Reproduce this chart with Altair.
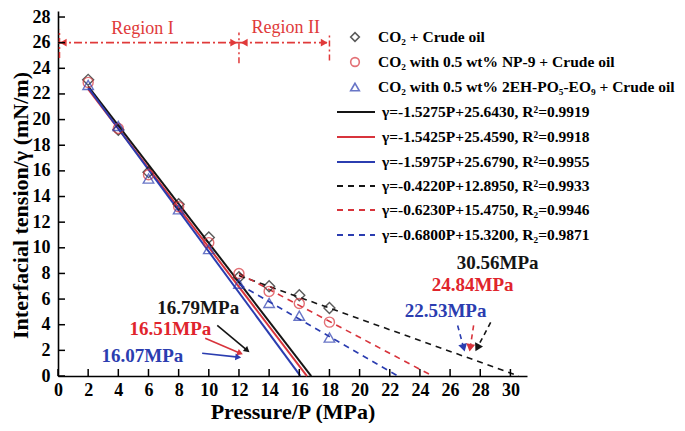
import math
import altair as alt
import pandas as pd

# ---------------- data ----------------
P = [2, 4, 6, 8, 10, 12, 14, 16, 18]
g_co2 = [23.1, 19.2, 15.9, 13.4, 10.8, 7.7, 7.0, 6.3, 5.3]
g_np9 = [22.9, 19.3, 15.7, 13.2, 10.4, 8.0, 6.6, 5.65, 4.2]
g_2eh = [22.7, 19.5, 15.4, 13.0, 9.9, 7.2, 5.7, 4.7, 3.0]

series_names = ["CO₂ + Crude oil",
                "CO₂ with 0.5 wt% NP-9 + Crude oil",
                "CO₂ with 0.5 wt% 2EH-PO₅-EO₉ + Crude oil"]

fit_slope = [-1.5275, -1.5425, -1.5975, -0.4220, -0.6230, -0.6800]
fit_icpt = [25.6430, 25.4590, 25.6790, 12.8950, 15.4750, 15.3200]
fit_from = [2, 2, 2, 12, 12, 12]
fit_to = [16.79, 16.51, 16.07, 30.56, 24.84, 22.53]
fit_r2 = ["R²=0.9919", "R²=0.9918", "R²=0.9955", "R²=0.9933", "R₂=0.9946", "R₂=0.9871"]
fit_style = ["solid", "solid", "solid", "dash", "dash", "dash"]

cross_labels = ["16.79MPa", "16.51MPa", "16.07MPa", "30.56MPa", "24.84MPa", "22.53MPa"]
cross_label_x = [9.3, 7.45, 5.6, 29.15, 27.5, 25.7]
cross_label_y = [5.3, 3.7, 1.55, 8.8, 7.1, 5.1]

x_ticks = list(range(0, 31, 2))
y_ticks = list(range(0, 29, 2))

# ---------------- styling ----------------
BLACK = "#151515"
RED = "#d8343c"
BLUE = "#2b3db0"
TXT_RED = "#e0242c"
REG_RED = "#e03a3a"
FONT = "Liberation Serif"
col3 = [BLACK, RED, BLUE]
colors6 = col3 + col3

TOP = 3
W, H = 469, 365
XMAX, YMAX = 31.1, 28.47
SX, SY = W / XMAX, H / YMAX

xs = alt.Scale(domain=[0, XMAX], nice=False, zero=False)
ys = alt.Scale(domain=[0, YMAX], nice=False, zero=False)

xaxis = alt.Axis(title="Pressure/P (MPa)", values=x_ticks, ticks=False, grid=False,
                 domainColor="black", domainWidth=1.6, labelFont=FONT, labelFontSize=18,
                 labelFontWeight="bold", labelColor="black", labelPadding=5,
                 labelOverlap=False, labelFlush=False, format="d",
                 titleFont=FONT, titleFontSize=22, titleFontWeight="bold",
                 titleColor="black", titlePadding=2)
yaxis = alt.Axis(title="Interfacial tension/γ (mN/m)", values=y_ticks, ticks=False,
                 grid=False, domainColor="black", domainWidth=1.6, labelFont=FONT,
                 labelFontSize=18, labelFontWeight="bold", labelColor="black",
                 labelPadding=8, labelOverlap=False, labelFlush=False, format="d",
                 titleFont=FONT, titleFontSize=22, titleFontWeight="bold",
                 titleColor="black", titlePadding=0, titleY=194)


def ex(f):
    return alt.X(f, scale=xs, axis=xaxis)


def ey(f):
    return alt.Y(f, scale=ys, axis=yaxis)


def heading(x0, y0, x1, y1):
    dx = (x1 - x0) * SX
    dy = -(y1 - y0) * SY
    return math.degrees(math.atan2(dx, -dy)) % 360


def px2x(px):
    return px / SX


def py2y(py):
    return (H - py) / SY


# ---------------- fitted lines ----------------
fits = pd.DataFrame({"slope": fit_slope, "icpt": fit_icpt, "p0": fit_from,
                     "p1": fit_to, "color": colors6, "style": fit_style})
fit_base = alt.Chart(fits).transform_calculate(
    y0="datum.slope*datum.p0+datum.icpt", y1="datum.slope*datum.p1+datum.icpt")
solid = fit_base.transform_filter("datum.style=='solid'").mark_rule(strokeWidth=2).encode(
    x=ex("p0:Q"), x2="p1:Q", y=ey("y0:Q"), y2="y1:Q",
    color=alt.Color("color:N", scale=None))
dashed = fit_base.transform_filter("datum.style=='dash'").mark_rule(
    strokeWidth=1.6, strokeDash=[6, 5]).encode(
    x=ex("p0:Q"), x2="p1:Q", y=ey("y0:Q"), y2="y1:Q",
    color=alt.Color("color:N", scale=None))

# ---------------- data points ----------------
pts = pd.DataFrame({"P": P * 3, "g": g_co2 + g_np9 + g_2eh,
                    "series": sum([[s] * len(P) for s in series_names], [])})
shapes = ["diamond", "circle", "triangle-up"]
sizes = [120, 100, 110]
point_layers = []
for s, shp, c, sz in zip(series_names, shapes, col3, sizes):
    point_layers.append(
        alt.Chart(pts).transform_filter(alt.datum.series == s).mark_point(
            shape=shp, filled=False, size=sz, strokeWidth=1.4, color=c).encode(
            x=ex("P:Q"), y=ey("g:Q")))

# ---------------- crossing annotations ----------------
ann = pd.DataFrame({"x": cross_label_x, "y": cross_label_y, "text": cross_labels,
                    "color": [BLACK, TXT_RED, BLUE, BLACK, TXT_RED, BLUE]})
ann_text = alt.Chart(ann).mark_text(font=FONT, fontWeight="bold", fontSize=19).encode(
    x=ex("x:Q"), y=ey("y:Q"), text="text:N", color=alt.Color("color:N", scale=None))

arr_x0 = [10.56, 9.76, 9.56]
arr_y0 = [3.94, 2.94, 1.78]
arr_x1 = [12.55, 12.08, 11.95]
arr_y1 = [2.0, 1.78, 1.47]
arrows = pd.DataFrame({"x0": arr_x0, "y0": arr_y0, "x1": arr_x1, "y1": arr_y1,
                       "color": [BLACK, RED, BLUE]})
arrows["ang"] = [heading(a, b, c, d) for a, b, c, d in zip(arr_x0, arr_y0, arr_x1, arr_y1)]
arrow_lines = alt.Chart(arrows).mark_rule(strokeWidth=1.6).encode(
    x=ex("x0:Q"), x2="x1:Q", y=ey("y0:Q"), y2="y1:Q",
    color=alt.Color("color:N", scale=None))
arrow_heads = alt.Chart(arrows).mark_point(shape="triangle-up", filled=True, size=45,
                                           opacity=1).encode(
    x=ex("x1:Q"), y=ey("y1:Q"),
    angle=alt.Angle("ang:Q", scale=None), color=alt.Color("color:N", scale=None))

pt_x0 = [26.5, 27.56, 28.69]
pt_y0 = [3.94, 3.94, 4.18]
pt_x1 = [26.9, 27.33, 27.8]
pt_y1 = [2.2, 2.2, 2.2]
pointers = pd.DataFrame({"x0": pt_x0, "y0": pt_y0, "x1": pt_x1, "y1": pt_y1,
                         "color": [BLUE, RED, BLACK]})
pointers["ang"] = [heading(a, b, c, d) for a, b, c, d in zip(pt_x0, pt_y0, pt_x1, pt_y1)]
pointer_lines = alt.Chart(pointers).mark_rule(strokeWidth=1.6, strokeDash=[5, 4]).encode(
    x=ex("x0:Q"), x2="x1:Q", y=ey("y0:Q"), y2="y1:Q",
    color=alt.Color("color:N", scale=None))
pointer_heads = alt.Chart(pointers).mark_point(shape="triangle-up", filled=True, size=80,
                                               opacity=1).encode(
    x=ex("x1:Q"), y=ey("y1:Q"),
    angle=alt.Angle("ang:Q", scale=None), color=alt.Color("color:N", scale=None))

# ---------------- regions ----------------
reg_h = pd.DataFrame({"x0": [0, 12], "x1": [12, 18], "y": [26, 26]})
reg_lines = alt.Chart(reg_h).mark_rule(color=REG_RED, strokeWidth=1.8,
                                       strokeDash=[8, 3, 2, 3]).encode(
    x=ex("x0:Q"), x2="x1:Q", y=ey("y:Q"))
reg_v = pd.DataFrame({"x": [0.1, 12, 18], "y0": [24.8, 24.4, 24.6], "y1": [27.0, 26.8, 26.7]})
reg_vlines = alt.Chart(reg_v).mark_rule(color=REG_RED, strokeWidth=1.5,
                                        strokeDash=[6, 3, 2, 3]).encode(
    x=ex("x:Q"), y=ey("y0:Q"), y2="y1:Q")
reg_heads = pd.DataFrame({"x": [0.35, 11.65, 12.35, 17.65], "y": [26] * 4,
                          "shape": ["triangle-left", "triangle-right",
                                    "triangle-left", "triangle-right"]})
reg_arrow = alt.Chart(reg_heads).mark_point(filled=True, size=60, color=REG_RED,
                                            opacity=1).encode(
    x=ex("x:Q"), y=ey("y:Q"), shape=alt.Shape("shape:N", scale=None))
reg_txt = pd.DataFrame({"x": [5.6, 15.1], "y": [27.05, 27.15], "text": ["Region I", "Region II"]})
reg_text = alt.Chart(reg_txt).mark_text(font=FONT, fontSize=18, color=REG_RED).encode(
    x=ex("x:Q"), y=ey("y:Q"), text="text:N")

# ---------------- inward ticks ----------------
xt = alt.Chart(pd.DataFrame({"v": x_ticks})).mark_rule(color="black", strokeWidth=1.5).encode(
    x=ex("v:Q"), y=alt.value(H), y2=alt.value(H - 7))
yt = alt.Chart(pd.DataFrame({"v": y_ticks})).mark_rule(color="black", strokeWidth=1.5).encode(
    y=ey("v:Q"), x=alt.value(0), x2=alt.value(7))

# ---------------- legend (laid out in plot pixels, mapped to data units) ----------------
fit_labels = [f"γ={s:.4f}P+{b:.4f}, {r}" for s, b, r in zip(fit_slope, fit_icpt, fit_r2)]
sym_rows = [26, 51, 76]
line_rows = [101, 126, 151, 175, 199, 224]
leg_sym = pd.DataFrame({"x": [px2x(297)] * 3, "y": [py2y(v) for v in sym_rows],
                        "shape": shapes, "color": col3})
leg_sym_marks = alt.Chart(leg_sym).mark_point(filled=False, size=75, strokeWidth=1.6).encode(
    x=ex("x:Q"), y=ey("y:Q"),
    shape=alt.Shape("shape:N", scale=None), color=alt.Color("color:N", scale=None))
leg_lines = pd.DataFrame({"x0": [px2x(279)] * 6, "x1": [px2x(317)] * 6,
                          "y": [py2y(v) for v in line_rows],
                          "color": colors6, "style": fit_style})
leg_solid = alt.Chart(leg_lines).transform_filter("datum.style=='solid'").mark_rule(
    strokeWidth=2).encode(x=ex("x0:Q"), x2="x1:Q", y=ey("y:Q"),
                          color=alt.Color("color:N", scale=None))
leg_dash = alt.Chart(leg_lines).transform_filter("datum.style=='dash'").mark_rule(
    strokeWidth=1.8, strokeDash=[6, 5]).encode(
    x=ex("x0:Q"), x2="x1:Q", y=ey("y:Q"), color=alt.Color("color:N", scale=None))
leg_txt = pd.DataFrame({"x": [px2x(320)] * 3 + [px2x(324)] * 6,
                        "y": [py2y(v) for v in sym_rows + line_rows],
                        "text": series_names + fit_labels})
leg_text = alt.Chart(leg_txt).mark_text(font=FONT, fontWeight="bold", fontSize=15.5,
                                        align="left", baseline="middle", color="black").encode(
    x=ex("x:Q"), y=ey("y:Q"), text="text:N")

chart = alt.layer(
    solid, dashed, *point_layers, reg_lines, reg_vlines, reg_arrow, reg_text,
    arrow_lines, arrow_heads, pointer_lines, pointer_heads, ann_text, xt, yt,
    leg_solid, leg_dash, leg_sym_marks, leg_text
).properties(
    width=W, height=H, autosize="none",
    padding={"left": 50, "top": TOP, "right": 150, "bottom": 47}
).configure_view(stroke=None)

chart.save("out.html", embed_options={"renderer": "svg", "actions": False})
